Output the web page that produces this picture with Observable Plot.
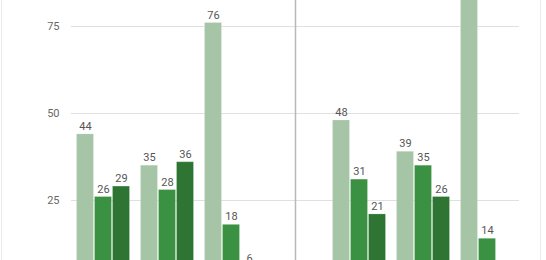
<!DOCTYPE html>
<html>
<head>
<meta charset="utf-8">
<script src="https://cdn.jsdelivr.net/npm/d3@7"></script>
<script src="https://cdn.jsdelivr.net/npm/@observablehq/plot@0.6"></script>
<style>
  html, body { margin: 0; padding: 0; background: #fff; }
  #wrap { position: relative; width: 546px; height: 260px; overflow: hidden; font-family: Roboto, "Noto Sans", sans-serif; }
  #wrap svg { position: absolute; left: 0; top: 0; }
  .edge { position: absolute; top: 0; width: 1px; height: 260px; background: #ececec; }
</style>
</head>
<body>
<div id="wrap">
  <div class="edge" style="left:1px"></div>
  <div class="edge" style="left:540px"></div>
</div>
<script>
// Category slots (the empty "gap" slot holds the divider line)
const groups = ["G1", "G2", "G3", "gap", "G4", "G5", "G6"];
const dataGroups = ["G1", "G2", "G3", "G4", "G5", "G6"];
const series = ["A", "B", "C"];
const valuesA = [44, 35, 76, 48, 39, 90];
const valuesB = [26, 28, 18, 31, 35, 14];
const valuesC = [29, 36, 6, 21, 26, 1];
const yTicks = [25, 50, 75];
const dividerGroup = ["gap"];
const colors = ["#a6c4a6", "#3b9142", "#2e7533"];

const seriesValues = [valuesA, valuesB, valuesC];
const data = [];
dataGroups.forEach((g, i) => {
  series.forEach((s, j) => data.push({group: g, series: s, value: seriesValues[j][i]}));
});

const chart = Plot.plot({
  width: 546,
  height: 260,
  marginLeft: 68.5,
  marginRight: 24.5,
  marginTop: 0,
  marginBottom: 0,
  style: {fontFamily: "Roboto, 'Noto Sans', sans-serif", fontSize: "11px", background: "transparent"},
  fx: {domain: groups, padding: 0, axis: null},
  x: {domain: series, paddingInner: 0.055, paddingOuter: 0.23, axis: null},
  y: {domain: [0, 75], range: [287, 26], ticks: yTicks, axis: null},
  color: {domain: series, range: colors},
  marks: [
    Plot.ruleY(yTicks, {y: d => d, stroke: "#e0e0e0", strokeWidth: 1}),
    Plot.ruleX(dividerGroup, {fx: d => d, x: () => "B", stroke: "#b8b8b8", strokeWidth: 1.5}),
    Plot.barY(data, {fx: "group", x: "series", y: "value", fill: "series", stroke: "white", strokeOpacity: 0.2, strokeWidth: 1}),
    Plot.text(data, {fx: "group", x: "series", y: "value", text: d => String(d.value), dy: -8, fill: "#555", fontSize: 11}),
    Plot.axisY({ticks: yTicks, tickSize: 0, tickPadding: 12, label: null, fill: "#666", fontSize: 11})
  ]
});
document.getElementById("wrap").appendChild(chart);
</script>
</body>
</html>
